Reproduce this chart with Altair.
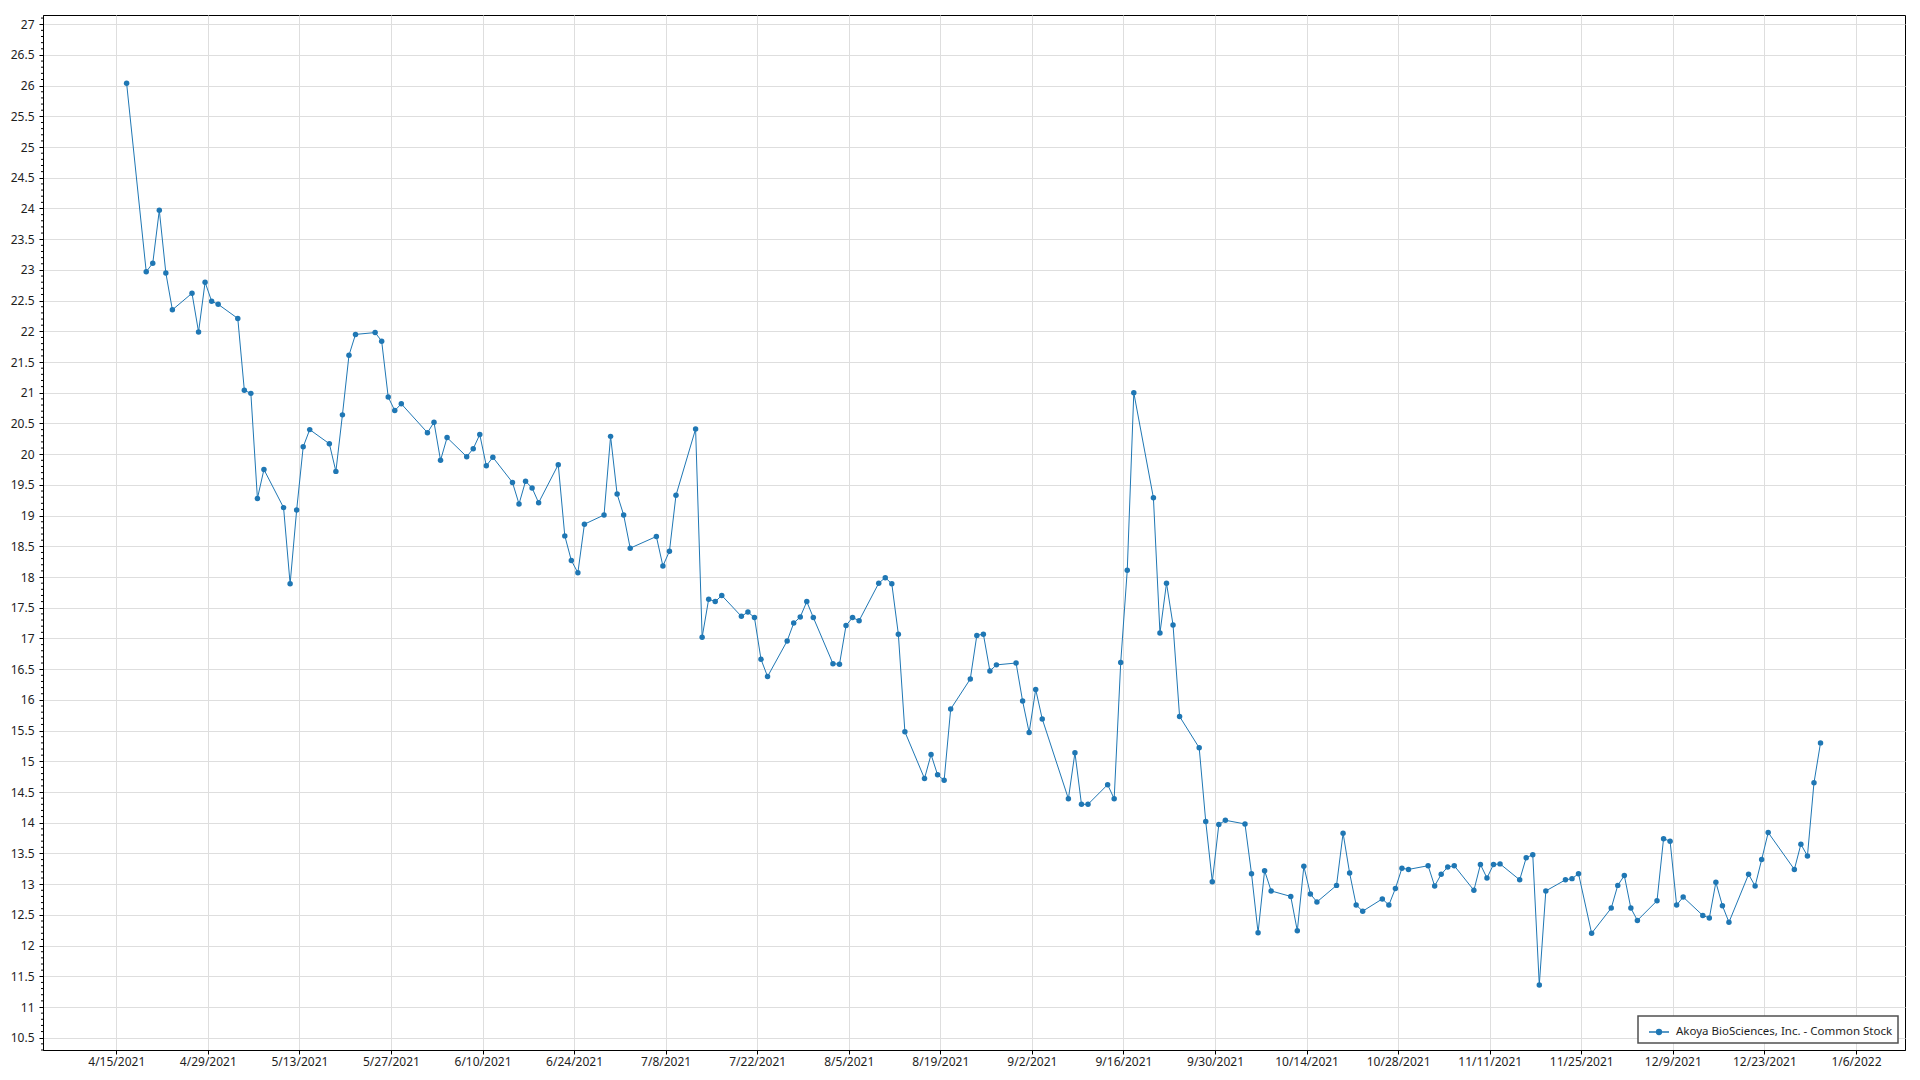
import altair as alt
import pandas as pd

SERIES = "Akoya BioSciences, Inc. - Common Stock"
FONT = "Noto Sans"
BLUE = "#1f77b4"

dates = [
    "2021-04-16", "2021-04-19", "2021-04-20", "2021-04-21", "2021-04-22", "2021-04-23",
    "2021-04-26", "2021-04-27", "2021-04-28", "2021-04-29", "2021-04-30",
    "2021-05-03", "2021-05-04", "2021-05-05", "2021-05-06", "2021-05-07",
    "2021-05-10", "2021-05-11", "2021-05-12", "2021-05-13", "2021-05-14",
    "2021-05-17", "2021-05-18", "2021-05-19", "2021-05-20", "2021-05-21",
    "2021-05-24", "2021-05-25", "2021-05-26", "2021-05-27", "2021-05-28",
    "2021-06-01", "2021-06-02", "2021-06-03", "2021-06-04",
    "2021-06-07", "2021-06-08", "2021-06-09", "2021-06-10", "2021-06-11",
    "2021-06-14", "2021-06-15", "2021-06-16", "2021-06-17", "2021-06-18",
    "2021-06-21", "2021-06-22", "2021-06-23", "2021-06-24", "2021-06-25",
    "2021-06-28", "2021-06-29", "2021-06-30", "2021-07-01", "2021-07-02",
    "2021-07-06", "2021-07-07", "2021-07-08", "2021-07-09",
    "2021-07-12", "2021-07-13", "2021-07-14", "2021-07-15", "2021-07-16",
    "2021-07-19", "2021-07-20", "2021-07-21", "2021-07-22", "2021-07-23",
    "2021-07-26", "2021-07-27", "2021-07-28", "2021-07-29", "2021-07-30",
    "2021-08-02", "2021-08-03", "2021-08-04", "2021-08-05", "2021-08-06",
    "2021-08-09", "2021-08-10", "2021-08-11", "2021-08-12", "2021-08-13",
    "2021-08-16", "2021-08-17", "2021-08-18", "2021-08-19", "2021-08-20",
    "2021-08-23", "2021-08-24", "2021-08-25", "2021-08-26", "2021-08-27",
    "2021-08-30", "2021-08-31", "2021-09-01", "2021-09-02", "2021-09-03",
    "2021-09-07", "2021-09-08", "2021-09-09", "2021-09-10",
    "2021-09-13", "2021-09-14", "2021-09-15", "2021-09-16", "2021-09-17",
    "2021-09-20", "2021-09-21", "2021-09-22", "2021-09-23", "2021-09-24",
    "2021-09-27", "2021-09-28", "2021-09-29", "2021-09-30", "2021-10-01",
    "2021-10-04", "2021-10-05", "2021-10-06", "2021-10-07", "2021-10-08",
    "2021-10-11", "2021-10-12", "2021-10-13", "2021-10-14", "2021-10-15",
    "2021-10-18", "2021-10-19", "2021-10-20", "2021-10-21", "2021-10-22",
    "2021-10-25", "2021-10-26", "2021-10-27", "2021-10-28", "2021-10-29",
    "2021-11-01", "2021-11-02", "2021-11-03", "2021-11-04", "2021-11-05",
    "2021-11-08", "2021-11-09", "2021-11-10", "2021-11-11", "2021-11-12",
    "2021-11-15", "2021-11-16", "2021-11-17", "2021-11-18", "2021-11-19",
    "2021-11-22", "2021-11-23", "2021-11-24", "2021-11-26",
    "2021-11-29", "2021-11-30", "2021-12-01", "2021-12-02", "2021-12-03",
    "2021-12-06", "2021-12-07", "2021-12-08", "2021-12-09", "2021-12-10",
    "2021-12-13", "2021-12-14", "2021-12-15", "2021-12-16", "2021-12-17",
    "2021-12-20", "2021-12-21", "2021-12-22", "2021-12-23",
    "2021-12-27", "2021-12-28", "2021-12-29", "2021-12-30", "2021-12-31",
]

closes = [
    26.04, 22.97, 23.11, 23.97, 22.95, 22.35,
    22.62, 21.99, 22.80, 22.49, 22.44,
    22.21, 21.04, 20.99, 19.28, 19.75,
    19.13, 17.89, 19.09, 20.12, 20.40,
    20.17, 19.72, 20.64, 21.61, 21.95,
    21.98, 21.84, 20.93, 20.71, 20.82,
    20.35, 20.52, 19.90, 20.27,
    19.96, 20.09, 20.32, 19.81, 19.95,
    19.54, 19.19, 19.56, 19.45, 19.21,
    19.83, 18.67, 18.27, 18.07, 18.86,
    19.01, 20.29, 19.35, 19.01, 18.47,
    18.66, 18.18, 18.42, 19.33,
    20.41, 17.02, 17.64, 17.60, 17.70,
    17.36, 17.43, 17.34, 16.66, 16.38,
    16.96, 17.25, 17.35, 17.60, 17.34,
    16.59, 16.58, 17.21, 17.34, 17.29,
    17.90, 17.99, 17.89, 17.07, 15.48,
    14.72, 15.11, 14.78, 14.69, 15.85,
    16.34, 17.05, 17.07, 16.47, 16.57,
    16.60, 15.98, 15.47, 16.17, 15.69,
    14.39, 15.14, 14.30, 14.30,
    14.62, 14.39, 16.61, 18.11, 21.00,
    19.29, 17.09, 17.90, 17.22, 15.73,
    15.22, 14.02, 13.04, 13.97, 14.04,
    13.98, 13.17, 12.21, 13.22, 12.89,
    12.80, 12.24, 13.29, 12.84, 12.71,
    12.98, 13.83, 13.18, 12.66, 12.56,
    12.76, 12.66, 12.93, 13.26, 13.24,
    13.30, 12.97, 13.16, 13.28, 13.30,
    12.90, 13.32, 13.10, 13.32, 13.33,
    13.07, 13.43, 13.48, 11.36, 12.89,
    13.07, 13.09, 13.17, 12.20,
    12.61, 12.98, 13.14, 12.61, 12.41,
    12.73, 13.74, 13.70, 12.66, 12.79,
    12.49, 12.45, 13.03, 12.65, 12.38,
    13.16, 12.97, 13.40, 13.84,
    13.24, 13.65, 13.46, 14.65, 15.30,
]

x_ticks = [
    "2021-04-15", "2021-04-29", "2021-05-13", "2021-05-27", "2021-06-10",
    "2021-06-24", "2021-07-08", "2021-07-22", "2021-08-05", "2021-08-19",
    "2021-09-02", "2021-09-16", "2021-09-30", "2021-10-14", "2021-10-28",
    "2021-11-11", "2021-11-25", "2021-12-09", "2021-12-23", "2022-01-06",
]

y_major = [10.5, 11, 11.5, 12, 12.5, 13, 13.5, 14, 14.5, 15, 15.5, 16, 16.5,
           17, 17.5, 18, 18.5, 19, 19.5, 20, 20.5, 21, 21.5, 22, 22.5, 23,
           23.5, 24, 24.5, 25, 25.5, 26, 26.5, 27]
y_minor = [round(10.3 + 0.1 * i, 1) for i in range(169)]
y_minor = [v for v in y_minor if round(v * 2, 6) != round(v * 2)]

# in the reference the daily points sit a little after each date's midnight
df = pd.DataFrame({
    "date": [d + "T14:00:00Z" for d in dates],
    "close": closes,
    "series": SERIES,
})
minor_df = pd.DataFrame({"tick": y_minor})


def ms(s):
    return int(pd.Timestamp(s, tz="UTC").value // 10**6)


x_scale = alt.Scale(type="utc", domain=[ms("2021-04-03 19:12"), ms("2022-01-13 12:00")])
y_scale = alt.Scale(domain=[10.3, 27.15], nice=False, zero=False)

LEGEND_SYMBOL = "M-1,0H1M-0.24,0A0.24,0.24,0,1,1,0.24,0A0.24,0.24,0,1,1,-0.24,0Z"

line = alt.Chart(df).mark_line(
    strokeWidth=1,
    point=alt.OverlayMarkDef(filled=True, size=30, opacity=1),
).encode(
    x=alt.X("date:T", title=None, scale=x_scale,
            axis=alt.Axis(values=[ms(s) for s in x_ticks],
                          labelExpr="utcFormat(datum.value, '%-m/%-d/%Y')",
                          tickSize=4, labelPadding=2,
                          labelOverlap=False, labelFlush=False, grid=True)),
    y=alt.Y("close:Q", title=None, scale=y_scale,
            axis=alt.Axis(values=y_major, format="~g", tickSize=4, labelPadding=5,
                          labelOverlap=False, labelFlush=False, grid=True)),
    color=alt.Color("series:N", scale=alt.Scale(range=[BLUE]),
                    legend=alt.Legend(title=None, orient="none", legendX=1595, legendY=1001,
                                      symbolType=LEGEND_SYMBOL, symbolSize=400,
                                      symbolStrokeWidth=1.5, symbolFillColor=BLUE,
                                      strokeColor="#505050", fillColor="white",
                                      padding=5, symbolOffset=5, labelOffset=6,
                                      labelLimit=400, labelFontSize=11.5)),
)

# short minor ticks on the left edge, every 0.1
minor = alt.Chart(minor_df).mark_rule(color="black", strokeWidth=1).encode(
    y=alt.Y("tick:Q", scale=y_scale, axis=None),
    x=alt.value(-2),
    x2=alt.value(0),
)

chart = alt.layer(line, minor).resolve_axis(y="independent").properties(
    width=1862,
    height=1035,
    padding={"left": 35, "top": 7, "right": 5, "bottom": 19},
    autosize=alt.AutoSizeParams(type="none"),
    background="white",
).configure_view(
    stroke="black", strokeWidth=1,
).configure_axis(
    labelFont=FONT, labelFontSize=12, labelColor="#1e1e1e",
    domainColor="black", tickColor="black", gridColor="#dedede", gridWidth=1,
).configure_legend(
    labelFont=FONT, labelColor="#1e1e1e", strokeWidth=1.5,
)

chart.save("out.html", embed_options={"renderer": "svg", "actions": False})
